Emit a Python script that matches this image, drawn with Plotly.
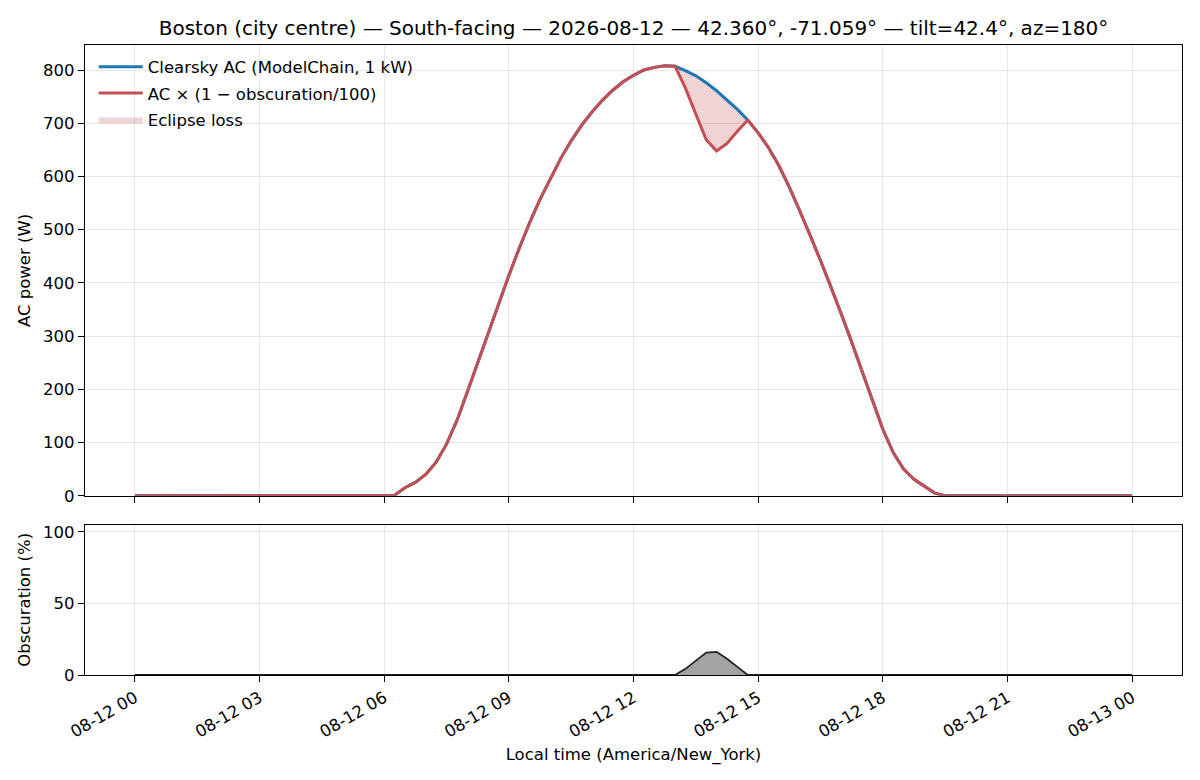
import datetime as dt
import plotly.graph_objects as go
from plotly.subplots import make_subplots

# ---------------- data (15-minute steps, local time) ----------------
start = dt.datetime(2026, 8, 12, 0, 0)
times = [start + dt.timedelta(minutes=15 * i) for i in range(97)]

# Clearsky AC power (W), 00:00 .. 24:00
clearsky_ac = (
    [0] * 24 +                                   # 00:00 - 05:45
    [0, 1, 15, 25,                               # 06:00 - 06:45
     40, 63, 97, 141,                            # 07:00 - 07:45
     195, 250, 306, 361,                         # 08:00 - 08:45
     414, 465, 513, 557,                         # 09:00 - 09:45
     597, 634, 667, 696,                         # 10:00 - 10:45
     721, 743, 762, 778,                         # 11:00 - 11:45
     790, 800, 805, 808,                         # 12:00 - 12:45
     807, 799, 789, 776,                         # 13:00 - 13:45
     761, 744, 726, 706,                         # 14:00 - 14:45
     682, 654, 620, 580,                         # 15:00 - 15:45
     536, 490, 442, 393,                         # 16:00 - 16:45
     342, 289, 234, 178,                         # 17:00 - 17:45
     125, 81, 50, 31,                            # 18:00 - 18:45
     18, 5] +                                    # 19:00 - 19:15
    [0] * 19                                     # 19:30 - 24:00
)

# Eclipse window: AC reduced by obscuration (W), 13:00 .. 14:45
eclipse_start_idx = 52
ac_eclipse = [807, 766, 717, 669, 648, 662, 685, 706]

# Obscuration (%), 00:00 .. 24:00
obscuration = [0] * 52 + [0, 4.3, 10.0, 15.7, 16.2, 11.3, 5.7, 0] + [0] * 37

ac_obscured = list(clearsky_ac)
for k, v in enumerate(ac_eclipse):
    ac_obscured[eclipse_start_idx + k] = v

ecl_t = times[eclipse_start_idx:eclipse_start_idx + len(ac_eclipse)]
ecl_cs = clearsky_ac[eclipse_start_idx:eclipse_start_idx + len(ac_eclipse)]

tick_vals = [start + dt.timedelta(hours=3 * i) for i in range(9)]
tick_text = [t.strftime("%m-%d %H") for t in tick_vals]

BLUE = "#1f77b4"
RED = "#c44e52"
FONT = "DejaVu Sans"
FS = 16.5

fig = make_subplots(rows=2, cols=1, shared_xaxes=True,
                    row_heights=[0.75, 0.25], vertical_spacing=0.046)

# eclipse loss polygon
fig.add_trace(go.Scatter(
    x=ecl_t + ecl_t[::-1], y=ecl_cs + ac_eclipse[::-1],
    fill="toself", fillcolor="rgba(196,78,82,0.25)",
    line=dict(width=0, color="rgba(196,78,82,0.25)"),
    mode="lines", name="Eclipse loss", hoverinfo="skip",
    legendrank=3, legendgroup="c"), row=1, col=1)

fig.add_trace(go.Scatter(
    x=times, y=clearsky_ac, mode="lines",
    line=dict(color=BLUE, width=3),
    name="Clearsky AC (ModelChain, 1 kW)", legendrank=1, legendgroup="a"), row=1, col=1)

fig.add_trace(go.Scatter(
    x=times, y=ac_obscured, mode="lines",
    line=dict(color=RED, width=3),
    name="AC × (1 − obscuration/100)", legendrank=2, legendgroup="b"), row=1, col=1)

fig.add_trace(go.Scatter(
    x=times, y=obscuration, mode="lines", fill="tozeroy",
    fillcolor="rgba(128,128,128,0.72)",
    line=dict(color="#222222", width=1.8),
    showlegend=False), row=2, col=1)

xrange = [start - dt.timedelta(hours=1.2), start + dt.timedelta(hours=25.2)]
grid = "rgba(0,0,0,0.09)"

axis_common = dict(showline=True, linecolor="black", linewidth=1.3, mirror=True,
                   ticks="outside", ticklen=6, tickwidth=1.3, tickcolor="black",
                   showgrid=True, gridcolor=grid, gridwidth=1, zeroline=False,
                   tickfont=dict(family=FONT, size=FS, color="black"))

fig.update_xaxes(**axis_common, range=xrange, tickvals=tick_vals)
fig.update_xaxes(ticktext=[""] * len(tick_vals), row=1, col=1)
fig.update_xaxes(ticktext=tick_text, tickangle=-30, row=2, col=1,
                 title=dict(text="Local time (America/New_York)",
                            font=dict(family=FONT, size=FS, color="black"),
                            standoff=8))

fig.update_yaxes(**axis_common)
fig.update_yaxes(range=[0, 847], tickvals=[0, 100, 200, 300, 400, 500, 600, 700, 800],
                 title=dict(text="AC power (W)", font=dict(family=FONT, size=FS, color="black"),
                            standoff=8), row=1, col=1)
fig.update_yaxes(range=[0, 105], tickvals=[0, 50, 100],
                 title=dict(text="Obscuration (%)", font=dict(family=FONT, size=FS, color="black"),
                            standoff=8), row=2, col=1)

fig.update_layout(
    width=1200, height=780,
    margin=dict(l=77, r=26, t=37, b=113),
    paper_bgcolor="white", plot_bgcolor="white",
    font=dict(family=FONT, size=FS, color="black"),
    title=dict(text="Boston (city centre) — South-facing — 2026-08-12 — 42.360°, -71.059° — tilt=42.4°, az=180°",
               x=0.5, xref="paper", xanchor="center", y=0.974, yanchor="middle",
               font=dict(family=FONT, size=20, color="black")),
    legend=dict(x=0.008, y=0.993, xanchor="left", yanchor="top",
                bgcolor="rgba(255,255,255,0)", borderwidth=0,
                font=dict(family=FONT, size=FS, color="black"),
                traceorder="grouped", tracegroupgap=2, itemwidth=44),
    showlegend=True,
)

fig.write_html("out.html")
